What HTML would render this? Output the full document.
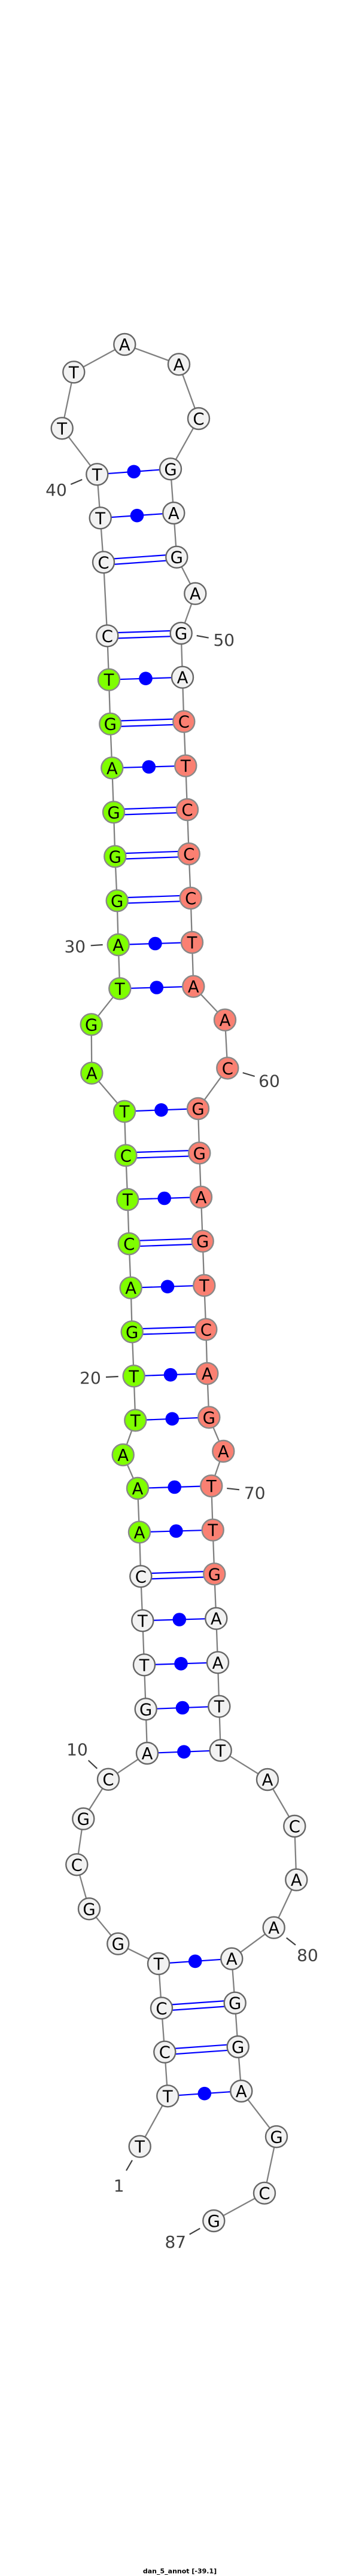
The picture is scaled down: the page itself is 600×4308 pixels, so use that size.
<!DOCTYPE html>
<html>
<head>
<meta charset="utf-8">
<style>
html,body{margin:0;padding:0;background:#fff;}
svg{display:block;}
.b{fill:none;stroke:#808080;stroke-width:2.3;}
.p{stroke:#0000ff;stroke-width:2.2;fill:none;}
.d{fill:#0000ff;stroke:none;}
.w{fill:#f2f2f2;stroke:#666666;stroke-width:2.4;}
.g{fill:#7fff00;stroke:#888888;stroke-width:2.4;}
.r{fill:#fa8072;stroke:#888888;stroke-width:2.4;}
.t{font-family:"DejaVu Sans",sans-serif;font-size:27.5px;text-anchor:middle;fill:#000;}
.l{font-family:"DejaVu Sans",sans-serif;font-size:28px;text-anchor:middle;fill:#404040;}
.k{stroke:#404040;stroke-width:2.2;fill:none;}
.h{font-family:"DejaVu Sans",sans-serif;font-size:11px;font-weight:bold;text-anchor:middle;fill:#000;}
</style>
</head>
<body>
<svg width="600" height="4308" viewBox="0 0 600 4308" xmlns="http://www.w3.org/2000/svg">
<rect width="600" height="4308" fill="#fff"/>
<polyline class="b" points="233.7,3589.7 280.3,3505.3 275.3,3431.7 270,3358.3 265,3284 197.3,3250.7 149,3192.3 128.3,3118.3 139.3,3041.7 181,2975.7 246,2932 243.7,2858.3 241,2784.3 238.3,2710.3 235.3,2636.3 233,2562.3 230,2489 205.7,2433 226.3,2375.3 223.7,2301.3 220.7,2227.3 218.7,2153.7 215.7,2080 213.3,2006 210.3,1932.3 208,1858.7 153.3,1794.7 152.7,1713.3 200.3,1653.3 197.7,1580 195.7,1506.3 192.3,1432.3 190,1358.3 187.3,1284.3 184.3,1210.7 182,1136.7 179.3,1063.3 173,940.3 167.7,866.3 162.3,793.3 103.7,716.3 123.3,622.3 208.3,576 299,609.3 332,700 285,784.3 290.3,858 295.3,931.7 326.3,992.7 302.7,1059 305,1132.7 307.3,1206.7 310.3,1280.7 313,1354 315.7,1428 318.7,1502 321,1576 323.3,1649.7 376,1705.7 380.3,1786.3 331,1854 333.3,1928.3 336,2002 338.7,2075.7 341.3,2149.7 344.3,2223.3 346.3,2297 349.3,2370.3 373.3,2427 353.3,2485 355.7,2558.7 358.3,2632.3 361.3,2706.7 364,2780.3 366.3,2853.7 368.7,2927.3 447,2976 492.3,3054 495.3,3143.7 457.7,3223.7 387.3,3275.7 392.7,3349.7 397.7,3423 403.3,3497 462,3573.3 442,3667.7 357.3,3714"/>

<!-- dot pairs -->
<line class="p" x1="162.3" y1="793.3" x2="285" y2="784.3"/><circle class="d" cx="223.7" cy="788.8" r="11.3"/>
<line class="p" x1="167.7" y1="866.3" x2="290.3" y2="858"/><circle class="d" cx="229" cy="862.2" r="11.3"/>
<line class="p" x1="182" y1="1136.7" x2="305" y2="1132.7"/><circle class="d" cx="243.5" cy="1134.7" r="11.3"/>
<line class="p" x1="187.3" y1="1284.3" x2="310.3" y2="1280.7"/><circle class="d" cx="248.8" cy="1282.5" r="11.3"/>
<line class="p" x1="197.7" y1="1580" x2="321" y2="1576"/><circle class="d" cx="259.4" cy="1578" r="11.3"/>
<line class="p" x1="200.3" y1="1653.3" x2="323.3" y2="1649.7"/><circle class="d" cx="261.8" cy="1651.5" r="11.3"/>
<line class="p" x1="208" y1="1858.7" x2="331" y2="1854"/><circle class="d" cx="269.5" cy="1856.3" r="11.3"/>
<line class="p" x1="213.3" y1="2006" x2="336" y2="2002"/><circle class="d" cx="274.7" cy="2004" r="11.3"/>
<line class="p" x1="218.7" y1="2153.7" x2="341.3" y2="2149.7"/><circle class="d" cx="280" cy="2151.7" r="11.3"/>
<line class="p" x1="223.7" y1="2301.3" x2="346.3" y2="2297"/><circle class="d" cx="285" cy="2299.2" r="11.3"/>
<line class="p" x1="226.3" y1="2375.3" x2="349.3" y2="2370.3"/><circle class="d" cx="287.8" cy="2372.8" r="11.3"/>
<line class="p" x1="230" y1="2489" x2="353.3" y2="2485"/><circle class="d" cx="291.7" cy="2487" r="11.3"/>
<line class="p" x1="233" y1="2562.3" x2="355.7" y2="2558.7"/><circle class="d" cx="294.4" cy="2560.5" r="11.3"/>
<line class="p" x1="238.3" y1="2710.3" x2="361.3" y2="2706.7"/><circle class="d" cx="299.8" cy="2708.5" r="11.3"/>
<line class="p" x1="241" y1="2784.3" x2="364" y2="2780.3"/><circle class="d" cx="302.5" cy="2782.3" r="11.3"/>
<line class="p" x1="243.7" y1="2858.3" x2="366.3" y2="2853.7"/><circle class="d" cx="305" cy="2856" r="11.3"/>
<line class="p" x1="246" y1="2932" x2="368.7" y2="2927.3"/><circle class="d" cx="307.4" cy="2929.7" r="11.3"/>
<line class="p" x1="265" y1="3284" x2="387.3" y2="3275.7"/><circle class="d" cx="326.2" cy="3279.9" r="11.3"/>
<line class="p" x1="280.3" y1="3505.3" x2="403.3" y2="3497"/><circle class="d" cx="341.8" cy="3501.2" r="11.3"/>

<!-- double pairs -->
<line class="p" x1="173" y1="935.6" x2="295.3" y2="927"/><line class="p" x1="173" y1="945" x2="295.3" y2="936.4"/>
<line class="p" x1="179.3" y1="1058.6" x2="302.7" y2="1054.3"/><line class="p" x1="179.3" y1="1068" x2="302.7" y2="1063.7"/>
<line class="p" x1="184.3" y1="1206" x2="307.3" y2="1202"/><line class="p" x1="184.3" y1="1215.4" x2="307.3" y2="1211.4"/>
<line class="p" x1="190" y1="1353.6" x2="313" y2="1349.3"/><line class="p" x1="190" y1="1363" x2="313" y2="1358.7"/>
<line class="p" x1="192.3" y1="1427.6" x2="315.7" y2="1423.3"/><line class="p" x1="192.3" y1="1437" x2="315.7" y2="1432.7"/>
<line class="p" x1="195.7" y1="1501.6" x2="318.7" y2="1497.3"/><line class="p" x1="195.7" y1="1511" x2="318.7" y2="1506.7"/>
<line class="p" x1="210.3" y1="1927.6" x2="333.3" y2="1923.6"/><line class="p" x1="210.3" y1="1937" x2="333.3" y2="1933"/>
<line class="p" x1="215.7" y1="2075.3" x2="338.7" y2="2071"/><line class="p" x1="215.7" y1="2084.7" x2="338.7" y2="2080.4"/>
<line class="p" x1="220.7" y1="2222.6" x2="344.3" y2="2218.6"/><line class="p" x1="220.7" y1="2232" x2="344.3" y2="2228"/>
<line class="p" x1="235.3" y1="2631.6" x2="358.3" y2="2627.6"/><line class="p" x1="235.3" y1="2641" x2="358.3" y2="2637"/>
<line class="p" x1="270" y1="3353.6" x2="392.7" y2="3345"/><line class="p" x1="270" y1="3363" x2="392.7" y2="3354.4"/>
<line class="p" x1="275.3" y1="3427" x2="397.7" y2="3418.3"/><line class="p" x1="275.3" y1="3436.4" x2="397.7" y2="3427.7"/>

<!-- label ticks -->
<line class="k" x1="118.3" y1="810" x2="137.3" y2="802"/>
<line class="k" x1="328.7" y1="1063" x2="348.7" y2="1066.7"/>
<line class="k" x1="151.7" y1="1581.3" x2="171.7" y2="1580"/>
<line class="k" x1="405.7" y1="1794" x2="425.7" y2="1800"/>
<line class="k" x1="177" y1="2303" x2="197.7" y2="2302"/>
<line class="k" x1="379.3" y1="2489" x2="400" y2="2491.3"/>
<line class="k" x1="147.7" y1="2944" x2="162.3" y2="2957.7"/>
<line class="k" x1="478.7" y1="3240.7" x2="494" y2="3252.7"/>
<line class="k" x1="221" y1="3612.7" x2="211" y2="3630"/>
<line class="k" x1="334.3" y1="3726.7" x2="316.7" y2="3736.7"/>

<!-- nodes -->
<circle class="w" cx="233.7" cy="3589.7" r="18"/><text class="t" x="233.7" y="3599.7">T</text>
<circle class="w" cx="280.3" cy="3505.3" r="18"/><text class="t" x="280.3" y="3515.3">T</text>
<circle class="w" cx="275.3" cy="3431.7" r="18"/><text class="t" x="275.3" y="3441.7">C</text>
<circle class="w" cx="270" cy="3358.3" r="18"/><text class="t" x="270" y="3368.3">C</text>
<circle class="w" cx="265" cy="3284" r="18"/><text class="t" x="265" y="3294">T</text>
<circle class="w" cx="197.3" cy="3250.7" r="18"/><text class="t" x="197.3" y="3260.7">G</text>
<circle class="w" cx="149" cy="3192.3" r="18"/><text class="t" x="149" y="3202.3">G</text>
<circle class="w" cx="128.3" cy="3118.3" r="18"/><text class="t" x="128.3" y="3128.3">C</text>
<circle class="w" cx="139.3" cy="3041.7" r="18"/><text class="t" x="139.3" y="3051.7">G</text>
<circle class="w" cx="181" cy="2975.7" r="18"/><text class="t" x="181" y="2985.7">C</text>
<circle class="w" cx="246" cy="2932" r="18"/><text class="t" x="246" y="2942">A</text>
<circle class="w" cx="243.7" cy="2858.3" r="18"/><text class="t" x="243.7" y="2868.3">G</text>
<circle class="w" cx="241" cy="2784.3" r="18"/><text class="t" x="241" y="2794.3">T</text>
<circle class="w" cx="238.3" cy="2710.3" r="18"/><text class="t" x="238.3" y="2720.3">T</text>
<circle class="w" cx="235.3" cy="2636.3" r="18"/><text class="t" x="235.3" y="2646.3">C</text>
<circle class="g" cx="233" cy="2562.3" r="18"/><text class="t" x="233" y="2572.3">A</text>
<circle class="g" cx="230" cy="2489" r="18"/><text class="t" x="230" y="2499">A</text>
<circle class="g" cx="205.7" cy="2433" r="18"/><text class="t" x="205.7" y="2443">A</text>
<circle class="g" cx="226.3" cy="2375.3" r="18"/><text class="t" x="226.3" y="2385.3">T</text>
<circle class="g" cx="223.7" cy="2301.3" r="18"/><text class="t" x="223.7" y="2311.3">T</text>
<circle class="g" cx="220.7" cy="2227.3" r="18"/><text class="t" x="220.7" y="2237.3">G</text>
<circle class="g" cx="218.7" cy="2153.7" r="18"/><text class="t" x="218.7" y="2163.7">A</text>
<circle class="g" cx="215.7" cy="2080" r="18"/><text class="t" x="215.7" y="2090">C</text>
<circle class="g" cx="213.3" cy="2006" r="18"/><text class="t" x="213.3" y="2016">T</text>
<circle class="g" cx="210.3" cy="1932.3" r="18"/><text class="t" x="210.3" y="1942.3">C</text>
<circle class="g" cx="208" cy="1858.7" r="18"/><text class="t" x="208" y="1868.7">T</text>
<circle class="g" cx="153.3" cy="1794.7" r="18"/><text class="t" x="153.3" y="1804.7">A</text>
<circle class="g" cx="152.7" cy="1713.3" r="18"/><text class="t" x="152.7" y="1723.3">G</text>
<circle class="g" cx="200.3" cy="1653.3" r="18"/><text class="t" x="200.3" y="1663.3">T</text>
<circle class="g" cx="197.7" cy="1580" r="18"/><text class="t" x="197.7" y="1590">A</text>
<circle class="g" cx="195.7" cy="1506.3" r="18"/><text class="t" x="195.7" y="1516.3">G</text>
<circle class="g" cx="192.3" cy="1432.3" r="18"/><text class="t" x="192.3" y="1442.3">G</text>
<circle class="g" cx="190" cy="1358.3" r="18"/><text class="t" x="190" y="1368.3">G</text>
<circle class="g" cx="187.3" cy="1284.3" r="18"/><text class="t" x="187.3" y="1294.3">A</text>
<circle class="g" cx="184.3" cy="1210.7" r="18"/><text class="t" x="184.3" y="1220.7">G</text>
<circle class="g" cx="182" cy="1136.7" r="18"/><text class="t" x="182" y="1146.7">T</text>
<circle class="w" cx="179.3" cy="1063.3" r="18"/><text class="t" x="179.3" y="1073.3">C</text>
<circle class="w" cx="173" cy="940.3" r="18"/><text class="t" x="173" y="950.3">C</text>
<circle class="w" cx="167.7" cy="866.3" r="18"/><text class="t" x="167.7" y="876.3">T</text>
<circle class="w" cx="162.3" cy="793.3" r="18"/><text class="t" x="162.3" y="803.3">T</text>
<circle class="w" cx="103.7" cy="716.3" r="18"/><text class="t" x="103.7" y="726.3">T</text>
<circle class="w" cx="123.3" cy="622.3" r="18"/><text class="t" x="123.3" y="632.3">T</text>
<circle class="w" cx="208.3" cy="576" r="18"/><text class="t" x="208.3" y="586">A</text>
<circle class="w" cx="299" cy="609.3" r="18"/><text class="t" x="299" y="619.3">A</text>
<circle class="w" cx="332" cy="700" r="18"/><text class="t" x="332" y="710">C</text>
<circle class="w" cx="285" cy="784.3" r="18"/><text class="t" x="285" y="794.3">G</text>
<circle class="w" cx="290.3" cy="858" r="18"/><text class="t" x="290.3" y="868">A</text>
<circle class="w" cx="295.3" cy="931.7" r="18"/><text class="t" x="295.3" y="941.7">G</text>
<circle class="w" cx="326.3" cy="992.7" r="18"/><text class="t" x="326.3" y="1002.7">A</text>
<circle class="w" cx="302.7" cy="1059" r="18"/><text class="t" x="302.7" y="1069">G</text>
<circle class="w" cx="305" cy="1132.7" r="18"/><text class="t" x="305" y="1142.7">A</text>
<circle class="r" cx="307.3" cy="1206.7" r="18"/><text class="t" x="307.3" y="1216.7">C</text>
<circle class="r" cx="310.3" cy="1280.7" r="18"/><text class="t" x="310.3" y="1290.7">T</text>
<circle class="r" cx="313" cy="1354" r="18"/><text class="t" x="313" y="1364">C</text>
<circle class="r" cx="315.7" cy="1428" r="18"/><text class="t" x="315.7" y="1438">C</text>
<circle class="r" cx="318.7" cy="1502" r="18"/><text class="t" x="318.7" y="1512">C</text>
<circle class="r" cx="321" cy="1576" r="18"/><text class="t" x="321" y="1586">T</text>
<circle class="r" cx="323.3" cy="1649.7" r="18"/><text class="t" x="323.3" y="1659.7">A</text>
<circle class="r" cx="376" cy="1705.7" r="18"/><text class="t" x="376" y="1715.7">A</text>
<circle class="r" cx="380.3" cy="1786.3" r="18"/><text class="t" x="380.3" y="1796.3">C</text>
<circle class="r" cx="331" cy="1854" r="18"/><text class="t" x="331" y="1864">G</text>
<circle class="r" cx="333.3" cy="1928.3" r="18"/><text class="t" x="333.3" y="1938.3">G</text>
<circle class="r" cx="336" cy="2002" r="18"/><text class="t" x="336" y="2012">A</text>
<circle class="r" cx="338.7" cy="2075.7" r="18"/><text class="t" x="338.7" y="2085.7">G</text>
<circle class="r" cx="341.3" cy="2149.7" r="18"/><text class="t" x="341.3" y="2159.7">T</text>
<circle class="r" cx="344.3" cy="2223.3" r="18"/><text class="t" x="344.3" y="2233.3">C</text>
<circle class="r" cx="346.3" cy="2297" r="18"/><text class="t" x="346.3" y="2307">A</text>
<circle class="r" cx="349.3" cy="2370.3" r="18"/><text class="t" x="349.3" y="2380.3">G</text>
<circle class="r" cx="373.3" cy="2427" r="18"/><text class="t" x="373.3" y="2437">A</text>
<circle class="r" cx="353.3" cy="2485" r="18"/><text class="t" x="353.3" y="2495">T</text>
<circle class="r" cx="355.7" cy="2558.7" r="18"/><text class="t" x="355.7" y="2568.7">T</text>
<circle class="r" cx="358.3" cy="2632.3" r="18"/><text class="t" x="358.3" y="2642.3">G</text>
<circle class="w" cx="361.3" cy="2706.7" r="18"/><text class="t" x="361.3" y="2716.7">A</text>
<circle class="w" cx="364" cy="2780.3" r="18"/><text class="t" x="364" y="2790.3">A</text>
<circle class="w" cx="366.3" cy="2853.7" r="18"/><text class="t" x="366.3" y="2863.7">T</text>
<circle class="w" cx="368.7" cy="2927.3" r="18"/><text class="t" x="368.7" y="2937.3">T</text>
<circle class="w" cx="447" cy="2976" r="18"/><text class="t" x="447" y="2986">A</text>
<circle class="w" cx="492.3" cy="3054" r="18"/><text class="t" x="492.3" y="3064">C</text>
<circle class="w" cx="495.3" cy="3143.7" r="18"/><text class="t" x="495.3" y="3153.7">A</text>
<circle class="w" cx="457.7" cy="3223.7" r="18"/><text class="t" x="457.7" y="3233.7">A</text>
<circle class="w" cx="387.3" cy="3275.7" r="18"/><text class="t" x="387.3" y="3285.7">A</text>
<circle class="w" cx="392.7" cy="3349.7" r="18"/><text class="t" x="392.7" y="3359.7">G</text>
<circle class="w" cx="397.7" cy="3423" r="18"/><text class="t" x="397.7" y="3433">G</text>
<circle class="w" cx="403.3" cy="3497" r="18"/><text class="t" x="403.3" y="3507">A</text>
<circle class="w" cx="462" cy="3573.3" r="18"/><text class="t" x="462" y="3583.3">G</text>
<circle class="w" cx="442" cy="3667.7" r="18"/><text class="t" x="442" y="3677.7">C</text>
<circle class="w" cx="357.3" cy="3714" r="18"/><text class="t" x="357.3" y="3724">G</text>

<!-- number labels -->
<text class="l" x="94" y="829.2">40</text>
<text class="l" x="374.3" y="1080.2">50</text>
<text class="l" x="125.3" y="1592.5">30</text>
<text class="l" x="450" y="1817.5">60</text>
<text class="l" x="151" y="2314.2">20</text>
<text class="l" x="425.7" y="2506.5">70</text>
<text class="l" x="129" y="2935.5">10</text>
<text class="l" x="514" y="3279.5">80</text>
<text class="l" x="198.7" y="3665">1</text>
<text class="l" x="293.3" y="3759.2">87</text>

<text class="h" x="300.5" y="4303.5">dan_5_annot [-39.1]</text>
</svg>
</body>
</html>
